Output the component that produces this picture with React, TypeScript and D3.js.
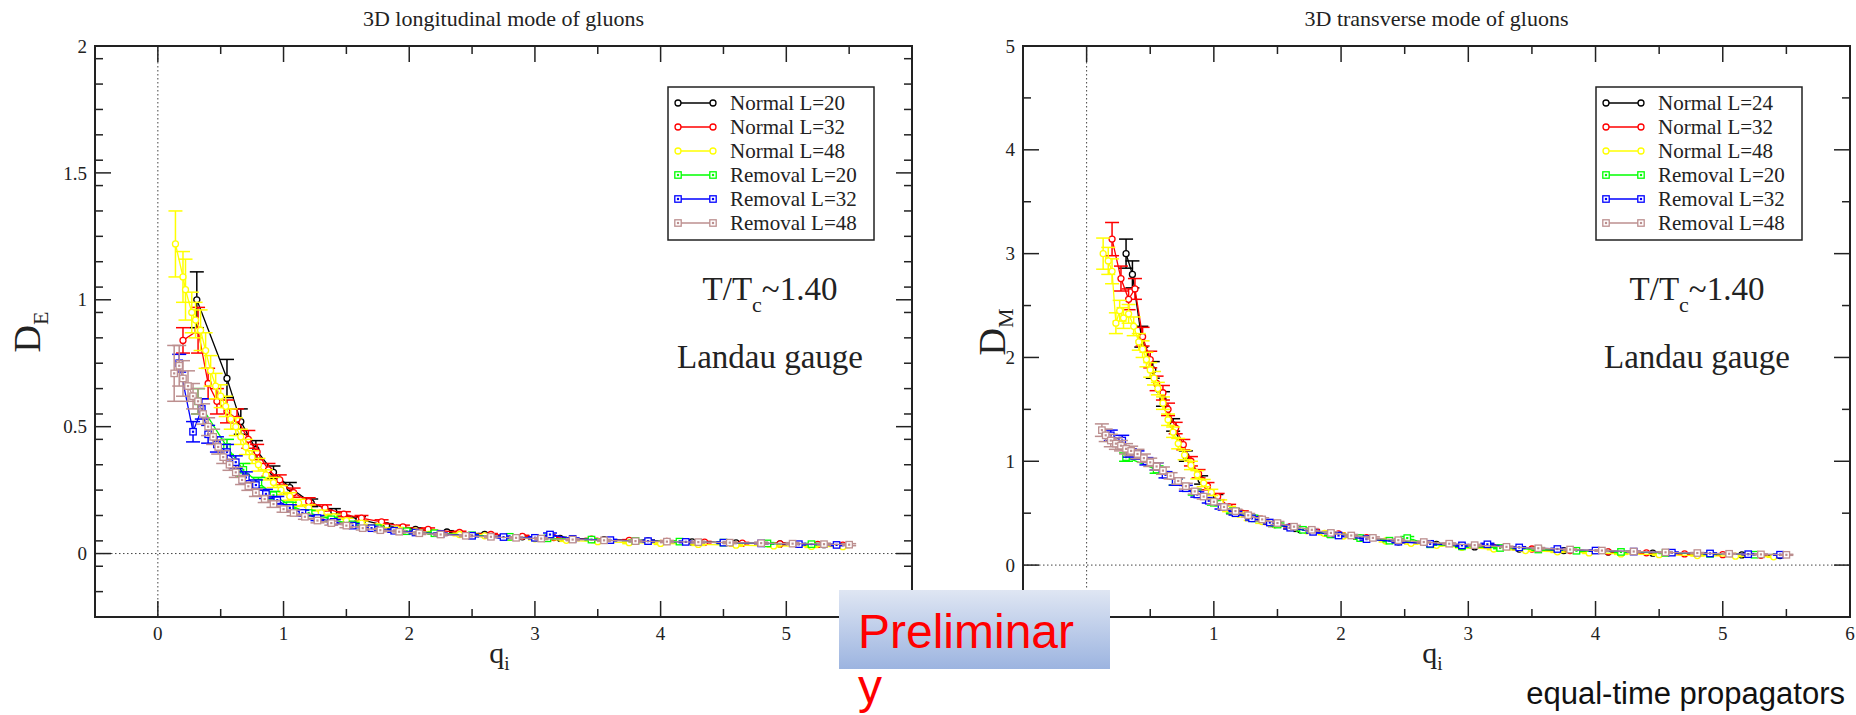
import React from 'react';
import * as d3 from 'd3';

// Each point: [q, D, error]
type Pt = [number, number, number];

// ---- 3D longitudinal mode (D_E) ----
const longNormalL20: Pt[] = [
  [0.31, 1.0, 0.11], [0.55, 0.69, 0.075], [0.66, 0.52, 0.05], [0.78, 0.41, 0.035], [0.92, 0.32, 0.025],
  [1.05, 0.26, 0.02], [1.22, 0.2, 0.015], [1.4, 0.165, 0.012], [1.6, 0.135, 0.01], [1.82, 0.11, 0.008],
  [2.05, 0.095, 0.006], [2.3, 0.085, 0.005], [2.6, 0.075, 0.004], [2.9, 0.066, 0.004], [3.2, 0.06, 0.004],
  [3.55, 0.055, 0.003], [3.9, 0.05, 0.003], [4.25, 0.046, 0.003], [4.6, 0.042, 0.003], [4.95, 0.038, 0.003],
  [5.3, 0.035, 0.003],
];
const longNormalL32: Pt[] = [
  [0.2, 0.84, 0.05], [0.32, 0.88, 0.09], [0.4, 0.67, 0.06], [0.47, 0.6, 0.05], [0.55, 0.56, 0.045],
  [0.63, 0.53, 0.04], [0.72, 0.45, 0.035], [0.79, 0.4, 0.03], [0.88, 0.33, 0.025], [0.97, 0.29, 0.02],
  [1.08, 0.24, 0.018], [1.2, 0.205, 0.015], [1.33, 0.18, 0.012], [1.48, 0.155, 0.01], [1.62, 0.14, 0.01],
  [1.78, 0.125, 0.008], [1.95, 0.105, 0.007], [2.15, 0.095, 0.006], [2.4, 0.083, 0.005], [2.65, 0.075, 0.004],
  [2.9, 0.068, 0.004], [3.15, 0.063, 0.004], [3.45, 0.057, 0.003], [3.75, 0.052, 0.003], [4.05, 0.048, 0.003],
  [4.35, 0.045, 0.003], [4.65, 0.041, 0.003], [4.95, 0.038, 0.003], [5.25, 0.036, 0.003], [5.45, 0.033, 0.003],
];
const longNormalL48: Pt[] = [
  [0.14, 1.22, 0.13], [0.2, 1.09, 0.1], [0.22, 1.04, 0.12], [0.27, 0.95, 0.08], [0.3, 0.92, 0.07],
  [0.34, 0.88, 0.08], [0.38, 0.8, 0.07], [0.42, 0.72, 0.06], [0.46, 0.66, 0.05], [0.5, 0.62, 0.045],
  [0.54, 0.58, 0.04], [0.58, 0.53, 0.04], [0.62, 0.5, 0.035], [0.66, 0.46, 0.03], [0.7, 0.42, 0.03],
  [0.75, 0.38, 0.025], [0.8, 0.35, 0.025], [0.86, 0.31, 0.02], [0.92, 0.28, 0.02], [0.98, 0.25, 0.018],
  [1.05, 0.225, 0.015], [1.12, 0.2, 0.014], [1.2, 0.18, 0.012], [1.3, 0.16, 0.011], [1.4, 0.145, 0.01],
  [1.5, 0.13, 0.009], [1.62, 0.12, 0.008], [1.75, 0.107, 0.007], [1.9, 0.097, 0.006], [2.05, 0.088, 0.005],
  [2.2, 0.082, 0.005], [2.4, 0.075, 0.005], [2.6, 0.07, 0.004], [2.8, 0.064, 0.004], [3.0, 0.058, 0.004],
  [3.25, 0.052, 0.004], [3.5, 0.047, 0.004], [3.75, 0.043, 0.004], [4.0, 0.04, 0.004], [4.3, 0.036, 0.004],
  [4.6, 0.033, 0.004], [4.9, 0.03, 0.004], [5.2, 0.028, 0.004], [5.45, 0.027, 0.004],
];
const longRemovalL20: Pt[] = [
  [0.32, 0.6, 0.05], [0.55, 0.42, 0.03], [0.68, 0.33, 0.025], [0.8, 0.28, 0.02], [0.92, 0.23, 0.015],
  [1.05, 0.19, 0.012], [1.2, 0.16, 0.01], [1.38, 0.135, 0.008], [1.55, 0.115, 0.007], [1.75, 0.1, 0.006],
  [1.98, 0.088, 0.005], [2.2, 0.08, 0.004], [2.5, 0.072, 0.004], [2.8, 0.066, 0.004], [3.1, 0.06, 0.004],
  [3.45, 0.055, 0.003], [3.8, 0.05, 0.003], [4.15, 0.047, 0.003], [4.5, 0.043, 0.003], [4.85, 0.04, 0.003],
  [5.2, 0.037, 0.003],
];
const longRemovalL32: Pt[] = [
  [0.17, 0.75, 0.035], [0.28, 0.48, 0.04], [0.35, 0.57, 0.04], [0.4, 0.47, 0.035], [0.47, 0.43, 0.03],
  [0.55, 0.4, 0.03], [0.62, 0.36, 0.025], [0.7, 0.3, 0.022], [0.78, 0.27, 0.02], [0.86, 0.235, 0.018],
  [0.95, 0.21, 0.015], [1.05, 0.18, 0.012], [1.15, 0.16, 0.011], [1.27, 0.14, 0.01], [1.4, 0.125, 0.009],
  [1.55, 0.11, 0.008], [1.7, 0.1, 0.007], [1.88, 0.09, 0.006], [2.05, 0.083, 0.005], [2.25, 0.077, 0.005],
  [2.5, 0.07, 0.004], [2.75, 0.065, 0.004], [3.0, 0.062, 0.004], [3.12, 0.075, 0.006], [3.3, 0.058, 0.004],
  [3.6, 0.053, 0.003], [3.9, 0.049, 0.003], [4.2, 0.046, 0.003], [4.5, 0.043, 0.003], [4.8, 0.04, 0.003],
  [5.1, 0.037, 0.003], [5.4, 0.034, 0.003],
];
const longRemovalL48: Pt[] = [
  [0.13, 0.71, 0.11], [0.17, 0.74, 0.08], [0.2, 0.69, 0.07], [0.24, 0.66, 0.06], [0.28, 0.62, 0.05],
  [0.32, 0.6, 0.05], [0.36, 0.55, 0.04], [0.4, 0.5, 0.035], [0.44, 0.46, 0.03], [0.48, 0.42, 0.028],
  [0.52, 0.38, 0.025], [0.57, 0.35, 0.022], [0.62, 0.32, 0.02], [0.67, 0.29, 0.018], [0.72, 0.265, 0.016],
  [0.78, 0.24, 0.015], [0.85, 0.215, 0.014], [0.92, 0.195, 0.013], [1.0, 0.175, 0.012], [1.08, 0.16, 0.011],
  [1.17, 0.145, 0.01], [1.27, 0.13, 0.009], [1.38, 0.12, 0.008], [1.5, 0.11, 0.008], [1.63, 0.1, 0.007],
  [1.77, 0.092, 0.006], [1.92, 0.086, 0.005], [2.08, 0.08, 0.005], [2.25, 0.075, 0.005], [2.45, 0.07, 0.004],
  [2.65, 0.066, 0.004], [2.85, 0.062, 0.004], [3.05, 0.059, 0.004], [3.3, 0.055, 0.004], [3.55, 0.052, 0.004],
  [3.8, 0.049, 0.004], [4.05, 0.047, 0.004], [4.3, 0.045, 0.004], [4.55, 0.043, 0.004], [4.8, 0.041, 0.004],
  [5.05, 0.039, 0.004], [5.3, 0.037, 0.004], [5.5, 0.035, 0.004],
];

// ---- 3D transverse mode (D_M) ----
const transNormalL24: Pt[] = [
  [0.31, 3.0, 0.14], [0.36, 2.8, 0.13], [0.43, 2.2, 0.1], [0.52, 1.88, 0.08], [0.6, 1.6, 0.07],
  [0.68, 1.35, 0.06], [0.78, 1.05, 0.05], [0.9, 0.82, 0.04], [1.02, 0.65, 0.03], [1.15, 0.52, 0.025],
  [1.3, 0.45, 0.02], [1.48, 0.39, 0.018], [1.68, 0.34, 0.015], [1.9, 0.3, 0.012], [2.15, 0.26, 0.01],
  [2.45, 0.225, 0.009], [2.75, 0.2, 0.008], [3.05, 0.175, 0.007], [3.4, 0.155, 0.006], [3.75, 0.14, 0.006],
  [4.1, 0.125, 0.005], [4.45, 0.115, 0.005], [4.8, 0.105, 0.005], [5.15, 0.098, 0.005], [5.45, 0.092, 0.005],
];
const transNormalL32: Pt[] = [
  [0.2, 3.14, 0.16], [0.27, 2.76, 0.12], [0.33, 2.56, 0.1], [0.38, 2.66, 0.1], [0.44, 2.2, 0.09],
  [0.5, 1.98, 0.08], [0.55, 1.75, 0.07], [0.6, 1.66, 0.07], [0.64, 1.5, 0.06], [0.7, 1.32, 0.055],
  [0.76, 1.16, 0.05], [0.82, 1.0, 0.045], [0.88, 0.88, 0.04], [0.95, 0.76, 0.035], [1.03, 0.66, 0.03],
  [1.12, 0.56, 0.025], [1.22, 0.5, 0.022], [1.33, 0.45, 0.02], [1.45, 0.41, 0.018], [1.6, 0.37, 0.015],
  [1.78, 0.33, 0.013], [1.98, 0.3, 0.011], [2.2, 0.265, 0.01], [2.45, 0.23, 0.009], [2.7, 0.205, 0.008],
  [2.95, 0.185, 0.007], [3.2, 0.17, 0.007], [3.5, 0.155, 0.006], [3.8, 0.14, 0.006], [4.1, 0.128, 0.005],
  [4.4, 0.118, 0.005], [4.7, 0.108, 0.005], [5.0, 0.1, 0.005], [5.3, 0.094, 0.005],
];
const transNormalL48: Pt[] = [
  [0.13, 3.0, 0.15], [0.17, 2.93, 0.13], [0.2, 2.83, 0.12], [0.23, 2.33, 0.1], [0.26, 2.45, 0.1],
  [0.29, 2.38, 0.1], [0.33, 2.42, 0.09], [0.37, 2.3, 0.09], [0.41, 2.15, 0.08], [0.44, 2.08, 0.08],
  [0.47, 1.98, 0.07], [0.5, 1.88, 0.07], [0.53, 1.8, 0.065], [0.56, 1.7, 0.06], [0.6, 1.56, 0.06],
  [0.64, 1.4, 0.055], [0.68, 1.28, 0.05], [0.72, 1.17, 0.05], [0.77, 1.06, 0.045], [0.82, 0.96, 0.04],
  [0.87, 0.87, 0.04], [0.92, 0.79, 0.035], [0.98, 0.7, 0.03], [1.05, 0.6, 0.028], [1.12, 0.54, 0.025],
  [1.2, 0.49, 0.022], [1.29, 0.45, 0.02], [1.38, 0.42, 0.018], [1.48, 0.39, 0.016], [1.6, 0.36, 0.015],
  [1.73, 0.33, 0.013], [1.87, 0.305, 0.012], [2.02, 0.28, 0.011], [2.18, 0.255, 0.01], [2.35, 0.232, 0.009],
  [2.55, 0.21, 0.008], [2.75, 0.19, 0.008], [2.95, 0.172, 0.007], [3.2, 0.155, 0.007], [3.45, 0.14, 0.006],
  [3.7, 0.128, 0.006], [3.95, 0.117, 0.005], [4.2, 0.108, 0.005], [4.5, 0.1, 0.005], [4.8, 0.092, 0.005],
  [5.1, 0.086, 0.005], [5.4, 0.08, 0.005],
];
const transRemovalL20: Pt[] = [
  [0.31, 1.04, 0.04], [0.55, 0.92, 0.035], [0.7, 0.8, 0.03], [0.85, 0.7, 0.025], [1.0, 0.6, 0.022],
  [1.15, 0.52, 0.02], [1.32, 0.45, 0.017], [1.5, 0.39, 0.015], [1.7, 0.34, 0.013], [1.92, 0.295, 0.012],
  [2.15, 0.26, 0.01], [2.38, 0.235, 0.01], [2.52, 0.26, 0.015], [2.7, 0.2, 0.008], [2.95, 0.18, 0.008],
  [3.25, 0.165, 0.007], [3.55, 0.15, 0.007], [3.85, 0.138, 0.006], [4.2, 0.127, 0.006], [4.55, 0.117, 0.005],
  [4.9, 0.108, 0.005], [5.25, 0.1, 0.005],
];
const transRemovalL32: Pt[] = [
  [0.19, 1.25, 0.05], [0.28, 1.2, 0.05], [0.34, 1.08, 0.04], [0.4, 1.06, 0.04], [0.47, 1.0, 0.035],
  [0.55, 0.95, 0.035], [0.62, 0.87, 0.03], [0.7, 0.8, 0.03], [0.78, 0.74, 0.028], [0.87, 0.68, 0.025],
  [0.96, 0.62, 0.022], [1.06, 0.56, 0.02], [1.17, 0.5, 0.018], [1.3, 0.45, 0.016], [1.44, 0.41, 0.015],
  [1.6, 0.36, 0.013], [1.78, 0.32, 0.012], [1.98, 0.285, 0.011], [2.2, 0.25, 0.01], [2.45, 0.225, 0.009],
  [2.7, 0.205, 0.008], [2.95, 0.19, 0.008], [3.15, 0.2, 0.01], [3.4, 0.17, 0.007], [3.7, 0.155, 0.007],
  [4.0, 0.14, 0.006], [4.3, 0.13, 0.006], [4.6, 0.12, 0.006], [4.9, 0.112, 0.005], [5.2, 0.105, 0.005],
  [5.45, 0.1, 0.005],
];
const transRemovalL48: Pt[] = [
  [0.12, 1.3, 0.06], [0.15, 1.25, 0.06], [0.19, 1.2, 0.06], [0.23, 1.17, 0.055], [0.27, 1.15, 0.05],
  [0.31, 1.12, 0.05], [0.35, 1.1, 0.045], [0.4, 1.07, 0.045], [0.45, 1.03, 0.04], [0.5, 0.99, 0.04],
  [0.55, 0.95, 0.035], [0.6, 0.91, 0.035], [0.66, 0.86, 0.03], [0.72, 0.81, 0.03], [0.78, 0.76, 0.028],
  [0.85, 0.71, 0.026], [0.92, 0.66, 0.024], [1.0, 0.61, 0.022], [1.08, 0.56, 0.02], [1.17, 0.52, 0.018],
  [1.27, 0.48, 0.017], [1.38, 0.44, 0.016], [1.5, 0.405, 0.015], [1.63, 0.37, 0.013], [1.77, 0.34, 0.012],
  [1.92, 0.31, 0.011], [2.08, 0.285, 0.01], [2.25, 0.262, 0.01], [2.45, 0.24, 0.009], [2.65, 0.222, 0.009],
  [2.85, 0.206, 0.008], [3.05, 0.192, 0.008], [3.3, 0.176, 0.007], [3.55, 0.162, 0.007], [3.8, 0.15, 0.006],
  [4.05, 0.14, 0.006], [4.3, 0.131, 0.006], [4.55, 0.123, 0.006], [4.8, 0.116, 0.005], [5.05, 0.109, 0.005],
  [5.3, 0.103, 0.005], [5.5, 0.099, 0.005],
];

const seriesColors = ['#000000', '#ff0000', '#ffff00', '#00ff00', '#0000ff', '#bc8f8f'];
const seriesSymbols = ['circle', 'circle', 'circle', 'square', 'square', 'square'];

const longLabels = ['Normal L=20', 'Normal L=32', 'Normal L=48', 'Removal L=20', 'Removal L=32', 'Removal L=48'];
const transLabels = ['Normal L=24', 'Normal L=32', 'Normal L=48', 'Removal L=20', 'Removal L=32', 'Removal L=48'];

const xTicks = [0, 1, 2, 3, 4, 5, 6];
const longXTickLabels = [0, 1, 2, 3, 4, 5]; // 6 sits under the banner
const transXTickLabels = [1, 2, 3, 4, 5, 6]; // 0 sits under the banner
const longYTicks = [0, 0.5, 1, 1.5, 2];
const longYTickLabels = ['0', '0.5', '1', '1.5', '2'];
const transYTicks = [0, 1, 2, 3, 4, 5];
const transYTickLabels = ['0', '1', '2', '3', '4', '5'];

const SERIF = '"Liberation Serif", "Times New Roman", serif';
const SANS = '"Liberation Sans", Arial, sans-serif';
const INK = '#222';

type PanelProps = {
  id: string;
  x0: number; x1: number; y0: number; y1: number;
  yDomain: [number, number];
  yTicks: number[];
  yTickLabels: string[];
  xTickLabels: number[];
  yMinorStep: number;
  title: string;
  yMain: string; ySub: string; yLabelX: number;
  legendX: number;
  labels: string[];
  series: Pt[][];
  noteX: number;
};

function Marker({ kind, x, y, color }: { kind: string; x: number; y: number; color: string }) {
  if (kind === 'circle') {
    return <circle cx={x} cy={y} r={3} fill="white" stroke={color} strokeWidth={1.3} />;
  }
  return (
    <g>
      <rect x={x - 3.2} y={y - 3.2} width={6.4} height={6.4} fill="white" stroke={color} strokeWidth={1.3} />
      <rect x={x - 1.1} y={y - 1.1} width={2.2} height={2.2} fill={color} />
    </g>
  );
}

function Panel(p: PanelProps) {
  const x = d3.scaleLinear().domain([-0.5, 6]).range([p.x0, p.x1]);
  const y = d3.scaleLinear().domain(p.yDomain).range([p.y1, p.y0]);
  const line = d3.line<Pt>().x(d => x(d[0])).y(d => y(d[1]));

  const round = (v: number) => Math.round(v * 1000) / 1000;
  const xMinor = d3.range(0.5, 6, 1).map(round);
  const yMinor = d3
    .range(p.yDomain[0] + p.yMinorStep, p.yDomain[1], p.yMinorStep)
    .map(round)
    .filter(v => !p.yTicks.some(t => Math.abs(t - v) < 1e-6) && v > p.yDomain[0]);

  const major = 16;
  const minor = 8;
  const cap = 7;
  const legendY = 87;
  const rowH = 24;

  return (
    <g>
      <defs>
        <clipPath id={`clip-${p.id}`}>
          <rect x={p.x0} y={p.y0} width={p.x1 - p.x0} height={p.y1 - p.y0} />
        </clipPath>
      </defs>

      {/* title */}
      <text x={(p.x0 + p.x1) / 2} y={26} textAnchor="middle" fontFamily={SERIF} fontSize={22} fill={INK}>
        {p.title}
      </text>

      {/* zero reference lines */}
      <line x1={x(0)} x2={x(0)} y1={p.y0} y2={p.y1} stroke="#444" strokeWidth={1} strokeDasharray="1.5,2.5" />
      <line x1={p.x0} x2={p.x1} y1={y(0)} y2={y(0)} stroke="#444" strokeWidth={1} strokeDasharray="1.5,2.5" />

      {/* data */}
      <g clipPath={`url(#clip-${p.id})`}>
        {p.series.map((s, i) => (
          <g key={i}>
            <path d={line(s) ?? ''} fill="none" stroke={seriesColors[i]} strokeWidth={1.3} />
            {s.map((d, j) => {
              const cx = x(d[0]);
              const top = y(d[1] + d[2]);
              const bot = y(d[1] - d[2]);
              return (
                <g key={j} stroke={seriesColors[i]} strokeWidth={1.5}>
                  <line x1={cx} x2={cx} y1={top} y2={bot} />
                  <line x1={cx - cap} x2={cx + cap} y1={top} y2={top} />
                  <line x1={cx - cap} x2={cx + cap} y1={bot} y2={bot} />
                </g>
              );
            })}
            {s.map((d, j) => (
              <Marker key={`m${j}`} kind={seriesSymbols[i]} x={x(d[0])} y={y(d[1])} color={seriesColors[i]} />
            ))}
          </g>
        ))}
      </g>

      {/* frame */}
      <rect x={p.x0} y={p.y0} width={p.x1 - p.x0} height={p.y1 - p.y0} fill="none" stroke={INK} strokeWidth={2} />

      {/* ticks on all four sides, pointing inward */}
      <g stroke={INK} strokeWidth={1.5}>
        {xTicks.map(t => (
          <g key={`xt${t}`}>
            <line x1={x(t)} x2={x(t)} y1={p.y1} y2={p.y1 - major} />
            <line x1={x(t)} x2={x(t)} y1={p.y0} y2={p.y0 + major} />
          </g>
        ))}
        {xMinor.map(t => (
          <g key={`xm${t}`}>
            <line x1={x(t)} x2={x(t)} y1={p.y1} y2={p.y1 - minor} />
            <line x1={x(t)} x2={x(t)} y1={p.y0} y2={p.y0 + minor} />
          </g>
        ))}
        {p.yTicks.map(t => (
          <g key={`yt${t}`}>
            <line x1={p.x0} x2={p.x0 + major} y1={y(t)} y2={y(t)} />
            <line x1={p.x1} x2={p.x1 - major} y1={y(t)} y2={y(t)} />
          </g>
        ))}
        {yMinor.map(t => (
          <g key={`ym${t}`}>
            <line x1={p.x0} x2={p.x0 + minor} y1={y(t)} y2={y(t)} />
            <line x1={p.x1} x2={p.x1 - minor} y1={y(t)} y2={y(t)} />
          </g>
        ))}
      </g>

      {/* tick labels */}
      <g fontFamily={SERIF} fontSize={19} fill={INK}>
        {p.xTickLabels.map(t => (
          <text key={`xl${t}`} x={x(t)} y={p.y1 + 23} textAnchor="middle">{t}</text>
        ))}
        {p.yTicks.map((t, i) => (
          <text key={`yl${t}`} x={p.x0 - 8} y={y(t)} dy="0.35em" textAnchor="end">{p.yTickLabels[i]}</text>
        ))}
      </g>

      {/* axis labels */}
      <text x={(p.x0 + p.x1) / 2 - 4} y={663} textAnchor="middle" fontFamily={SERIF} fontSize={30} fill={INK}>
        q<tspan fontSize={19} dy={7}>i</tspan>
      </text>
      <text transform={`translate(${p.yLabelX},332) rotate(-90)`} textAnchor="middle" fontFamily={SERIF} fontSize={38} fill={INK}>
        {p.yMain}<tspan fontSize={22} dy={8}>{p.ySub}</tspan>
      </text>

      {/* legend */}
      <rect x={p.legendX} y={legendY} width={206} height={153} fill="white" stroke={INK} strokeWidth={1.5} />
      {p.labels.map((lab, i) => {
        const cy = legendY + 16 + i * rowH;
        return (
          <g key={lab}>
            <line x1={p.legendX + 10} x2={p.legendX + 45} y1={cy} y2={cy} stroke={seriesColors[i]} strokeWidth={1.3} />
            <Marker kind={seriesSymbols[i]} x={p.legendX + 10} y={cy} color={seriesColors[i]} />
            <Marker kind={seriesSymbols[i]} x={p.legendX + 45} y={cy} color={seriesColors[i]} />
            <text x={p.legendX + 62} y={cy + 7} fontFamily={SERIF} fontSize={21} fill={INK}>{lab}</text>
          </g>
        );
      })}

      {/* annotations */}
      <text x={p.noteX} y={300} textAnchor="middle" fontFamily={SERIF} fontSize={33} fill={INK}>
        T/T<tspan fontSize={22} dy={12}>c</tspan><tspan dy={-12}>~1.40</tspan>
      </text>
      <text x={p.noteX} y={368} textAnchor="middle" fontFamily={SERIF} fontSize={33} fill={INK}>
        Landau gauge
      </text>
    </g>
  );
}

export default function App() {
  const W = 1856;
  const H = 715;
  return (
    <svg width={W} height={H} viewBox={`0 0 ${W} ${H}`} style={{ position: 'absolute', left: 0, top: 0, background: 'white' }}>
      <defs>
        <linearGradient id="prelimFill" x1="0" y1="0" x2="0" y2="1">
          <stop offset="0" stopColor="#dfe6f3" />
          <stop offset="1" stopColor="#9cb4e0" />
        </linearGradient>
      </defs>
      <rect x={0} y={0} width={W} height={H} fill="white" />

      <Panel
        id="long"
        x0={95} x1={912} y0={46} y1={617}
        yDomain={[-0.25, 2]}
        yTicks={longYTicks}
        yTickLabels={longYTickLabels}
        xTickLabels={longXTickLabels}
        yMinorStep={0.1}
        title="3D longitudinal mode of gluons"
        yMain="D" ySub="E" yLabelX={40}
        legendX={668}
        labels={longLabels}
        series={[longNormalL20, longNormalL32, longNormalL48, longRemovalL20, longRemovalL32, longRemovalL48]}
        noteX={770}
      />
      <Panel
        id="trans"
        x0={1023} x1={1850} y0={46} y1={617}
        yDomain={[-0.5, 5]}
        yTicks={transYTicks}
        yTickLabels={transYTickLabels}
        xTickLabels={transXTickLabels}
        yMinorStep={0.5}
        title="3D transverse mode of gluons"
        yMain="D" ySub="M" yLabelX={1005}
        legendX={1596}
        labels={transLabels}
        series={[transNormalL24, transNormalL32, transNormalL48, transRemovalL20, transRemovalL32, transRemovalL48]}
        noteX={1697}
      />

      {/* preliminary banner */}
      <rect x={839} y={590} width={271} height={79} fill="url(#prelimFill)" />
      <text x={858} y={648} fontFamily={SANS} fontSize={48} fill="#ff0000">Preliminar</text>
      <text x={858} y={703} fontFamily={SANS} fontSize={48} fill="#ff0000">y</text>

      <text x={1845} y={704} textAnchor="end" fontFamily={SANS} fontSize={31} fill="#111">equal-time propagators</text>
    </svg>
  );
}
